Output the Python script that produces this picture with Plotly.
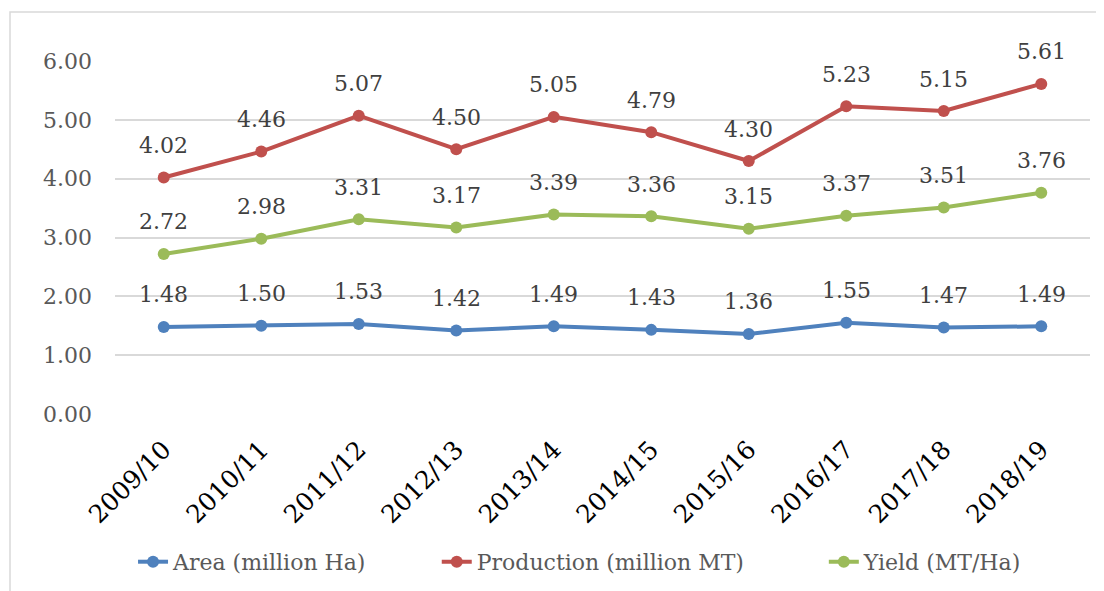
import plotly.graph_objects as go

categories = ["2009/10", "2010/11", "2011/12", "2012/13", "2013/14",
              "2014/15", "2015/16", "2016/17", "2017/18", "2018/19"]
area = [1.48, 1.50, 1.53, 1.42, 1.49, 1.43, 1.36, 1.55, 1.47, 1.49]
production = [4.02, 4.46, 5.07, 4.50, 5.05, 4.79, 4.30, 5.23, 5.15, 5.61]
yield_ = [2.72, 2.98, 3.31, 3.17, 3.39, 3.36, 3.15, 3.37, 3.51, 3.76]
y_ticks = [0, 1, 2, 3, 4, 5, 6]

series = [
    ("Area (million Ha)", area, "#4F81BD", "legend", 0.0185),
    ("Production (million MT)", production, "#C0504D", "legend2", 0.330),
    ("Yield (MT/Ha)", yield_, "#9BBB59", "legend3", 0.727),
]

FONT = "DejaVu Serif"
FS = 22
fig = go.Figure()
annotations = []
legends = {}
for name, vals, color, leg, lx in series:
    fig.add_trace(go.Scatter(
        x=categories, y=vals, name=name, mode="lines+markers",
        line=dict(color=color, width=4),
        marker=dict(color=color, size=12),
        legend=leg,
    ))
    legends[leg] = dict(orientation="h", x=lx, xanchor="left", y=-0.419, yanchor="middle",
                        font=dict(family=FONT, size=FS, color="#595959"),
                        bgcolor="rgba(0,0,0,0)")
    for c, v in zip(categories, vals):
        annotations.append(dict(
            x=c, y=v, text=f"{v:.2f}", showarrow=False, yshift=32,
            font=dict(family=FONT, size=FS, color="#404040"),
        ))

fig.update_layout(
    width=1096, height=583,
    margin=dict(l=107, r=14, t=53, b=177, autoexpand=False),
    paper_bgcolor="white", plot_bgcolor="white",
    font=dict(family=FONT, size=FS, color="#595959"),
    annotations=annotations,
    showlegend=True,
    shapes=[dict(type="rect", xref="paper", yref="paper",
                 x0=-0.1077, x1=1.05, y0=-0.7, y1=1.1388,
                 line=dict(color="#D9D9D9", width=1.5), layer="below")],
    **legends,
)
fig.update_xaxes(
    type="category", range=[-0.5, 9.5], tickangle=-45, automargin=False,
    showgrid=False, showline=False, zeroline=False, ticks="", ticklabelstandoff=15,
    tickfont=dict(family=FONT, size=25, color="#000000"),
)
fig.update_yaxes(
    range=[0, 6], tickvals=y_ticks, tickformat=".2f", automargin=False,
    showgrid=True, gridcolor="#D9D9D9", gridwidth=1.5,
    zeroline=False, showline=False, ticks="", ticklabelstandoff=22,
    tickfont=dict(family=FONT, size=FS, color="#595959"),
)

fig.write_html("out.html")
